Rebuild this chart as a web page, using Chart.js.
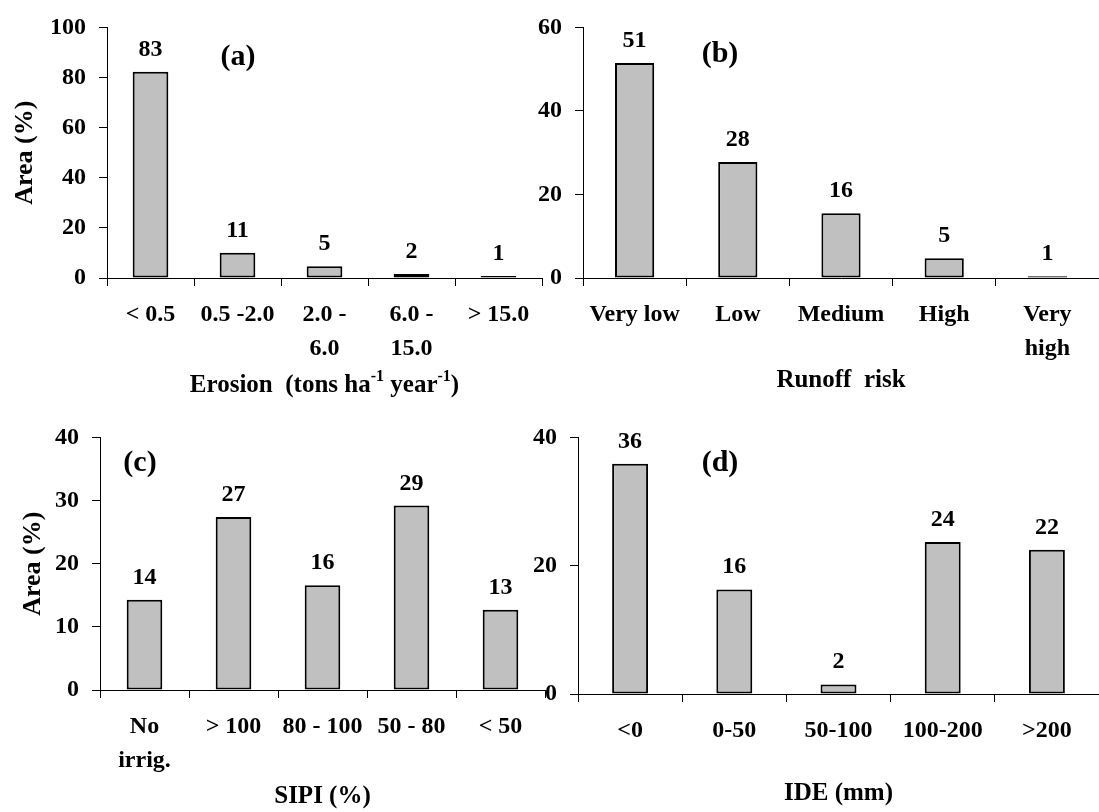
<!DOCTYPE html>
<html>
<head>
<meta charset="utf-8">
<script src="https://cdn.jsdelivr.net/npm/chart.js@4.4.0/dist/chart.umd.min.js"></script>
<style>
  body { margin: 0; background: #fff; }
  #wrap { position: relative; width: 1099px; height: 812px; overflow: hidden; }
  canvas { position: absolute; }
</style>
</head>
<body>
<div id="wrap">
  <canvas id="erosion" width="550" height="400" style="left:0px;top:0px"></canvas>
  <canvas id="runoff" width="639" height="400" style="left:460px;top:0px"></canvas>
  <canvas id="sipi" width="550" height="402" style="left:0px;top:410px"></canvas>
  <canvas id="ide" width="639" height="402" style="left:460px;top:410px"></canvas>
</div>
<script>
// (a) erosion
const erosionCats = ['< 0.5', '0.5 -2.0', ['2.0 -', '6.0'], ['6.0 -', '15.0'], '> 15.0'];
const erosionArea = [82.3, 10.1, 4.7, 1.6, 0.8];
const erosionText = ['83', '11', '5', '2', '1'];
const erosionTitle = [['Erosion  (tons ha', false], ['-1', true], [' year', false], ['-1', true], [')', false]];

// (b) runoff risk
const runoffCats = ['Very low', 'Low', 'Medium', 'High', ['Very', 'high']];
const runoffArea = [51.5, 27.8, 15.5, 4.7, 0.4];
const runoffText = ['51', '28', '16', '5', '1'];

// (c) SIPI
const sipiCats = [['No', 'irrig.'], '> 100', '80 - 100', '50 - 80', '< 50'];
const sipiArea = [14.3, 27.4, 16.6, 29.2, 12.7];
const sipiText = ['14', '27', '16', '29', '13'];

// (d) IDE
const ideCats = ['<0', '0-50', '50-100', '100-200', '>200'];
const ideArea = [35.9, 16.3, 1.5, 23.7, 22.5];
const ideText = ['36', '16', '2', '24', '22'];

const FONT = '"Liberation Serif", "Times New Roman", serif';
Chart.defaults.font.family = FONT;
Chart.defaults.font.weight = 'bold';
Chart.defaults.color = '#000';

// numbers above bars + panel letter
const barNotes = {
    id: 'barNotes',
    afterDatasetsDraw(chart, args, opts) {
        const ctx = chart.ctx;
        const bars = chart.getDatasetMeta(0).data;
        ctx.save();
        ctx.fillStyle = '#000';
        ctx.textAlign = 'center';
        ctx.font = 'bold 24px ' + FONT;
        ctx.textBaseline = 'alphabetic';
        bars.forEach((bar, i) => ctx.fillText(opts.texts[i], bar.x, bar.y - 16));
        ctx.font = 'bold 30px ' + FONT;
        ctx.textBaseline = 'middle';
        ctx.fillText(opts.tag, opts.tagX, opts.tagY);
        ctx.restore();
    }
};

// x title with superscripts (only used for panel a)
const supTitle = {
    id: 'supTitle',
    afterDraw(chart, args, opts) {
        if (!opts.parts) return;
        const ctx = chart.ctx;
        const big = 'bold 25px ' + FONT, small = 'bold 16px ' + FONT;
        ctx.save();
        ctx.fillStyle = '#000';
        ctx.textBaseline = 'middle';
        ctx.textAlign = 'left';
        let total = 0;
        opts.parts.forEach(p => { ctx.font = p[1] ? small : big; total += ctx.measureText(p[0]).width; });
        let x = (chart.chartArea.left + chart.chartArea.right) / 2 - total / 2;
        opts.parts.forEach(p => {
            ctx.font = p[1] ? small : big;
            ctx.fillText(p[0], x, p[1] ? opts.y - 9 : opts.y);
            x += ctx.measureText(p[0]).width;
        });
        ctx.restore();
    }
};

function barPanel(id, cats, values, texts, o) {
    const canvas = document.getElementById(id);
    return new Chart(canvas, {
        type: 'bar',
        data: {
            labels: cats,
            datasets: [{
                data: values,
                backgroundColor: '#c0c0c0',
                borderColor: '#000',
                borderWidth: 2,
                borderSkipped: false,
                barPercentage: o.barPct,
                categoryPercentage: 1
            }]
        },
        options: {
            responsive: false,
            animation: false,
            layout: { padding: { left: 0, top: o.top, right: o.right, bottom: 0 } },
            plugins: {
                legend: { display: false },
                tooltip: { enabled: false },
                barNotes: { texts: texts, tag: o.tag, tagX: o.tagX, tagY: o.tagY },
                supTitle: { parts: o.supParts, y: o.supY }
            },
            scales: {
                x: {
                    grid: { drawOnChartArea: false, drawTicks: true, tickLength: 8, color: '#000', lineWidth: 1 },
                    border: { display: true, color: '#000', width: 1 },
                    ticks: { font: { size: 24, lineHeight: 1.42 }, padding: 12, maxRotation: 0, autoSkip: false },
                    title: {
                        display: !!o.xTitle,
                        text: o.xTitle || '',
                        font: { size: 25 },
                        padding: { top: 0, bottom: o.xTitlePad || 0 }
                    },
                    afterFit: s => { s.height = o.xH; }
                },
                y: {
                    min: 0,
                    max: o.yMax,
                    ticks: { stepSize: o.step, font: { size: 24 }, padding: 13 },
                    grid: { drawOnChartArea: false, drawTicks: true, tickLength: 8, color: '#000', lineWidth: 1 },
                    border: { display: true, color: '#000', width: 1 },
                    title: {
                        display: !!o.yTitle,
                        text: 'Area (%)',
                        font: { size: 26 },
                        padding: { top: o.yTitlePad || 0, bottom: 0 }
                    },
                    afterFit: s => { s.width = o.yW; }
                }
            }
        },
        plugins: [barNotes, supTitle]
    });
}

barPanel('erosion', erosionCats, erosionArea, erosionText, {
    top: 25, right: 8, yW: 107, xH: 122, yMax: 100, step: 20, barPct: 0.41,
    yTitle: true, yTitlePad: 10, supParts: erosionTitle, supY: 386,
    tag: '(a)', tagX: 238, tagY: 57
});
barPanel('runoff', runoffCats, runoffArea, runoffText, {
    top: 24, right: 0, yW: 123, xH: 122, yMax: 60, step: 20, barPct: 0.38,
    xTitle: 'Runoff  risk', xTitlePad: 4,
    tag: '(b)', tagX: 260, tagY: 54
});
barPanel('sipi', sipiCats, sipiArea, sipiText, {
    top: 27, right: 5, yW: 100, xH: 122, yMax: 40, step: 10, barPct: 0.40,
    yTitle: true, yTitlePad: 18, xTitle: 'SIPI (%)', xTitlePad: 0,
    tag: '(c)', tagX: 140, tagY: 53
});
barPanel('ide', ideCats, ideArea, ideText, {
    top: 24, right: 0, yW: 118, xH: 118, yMax: 40, step: 20, barPct: 0.345,
    xTitle: 'IDE (mm)', xTitlePad: 3,
    tag: '(d)', tagX: 260, tagY: 53
});
</script>
</body>
</html>
